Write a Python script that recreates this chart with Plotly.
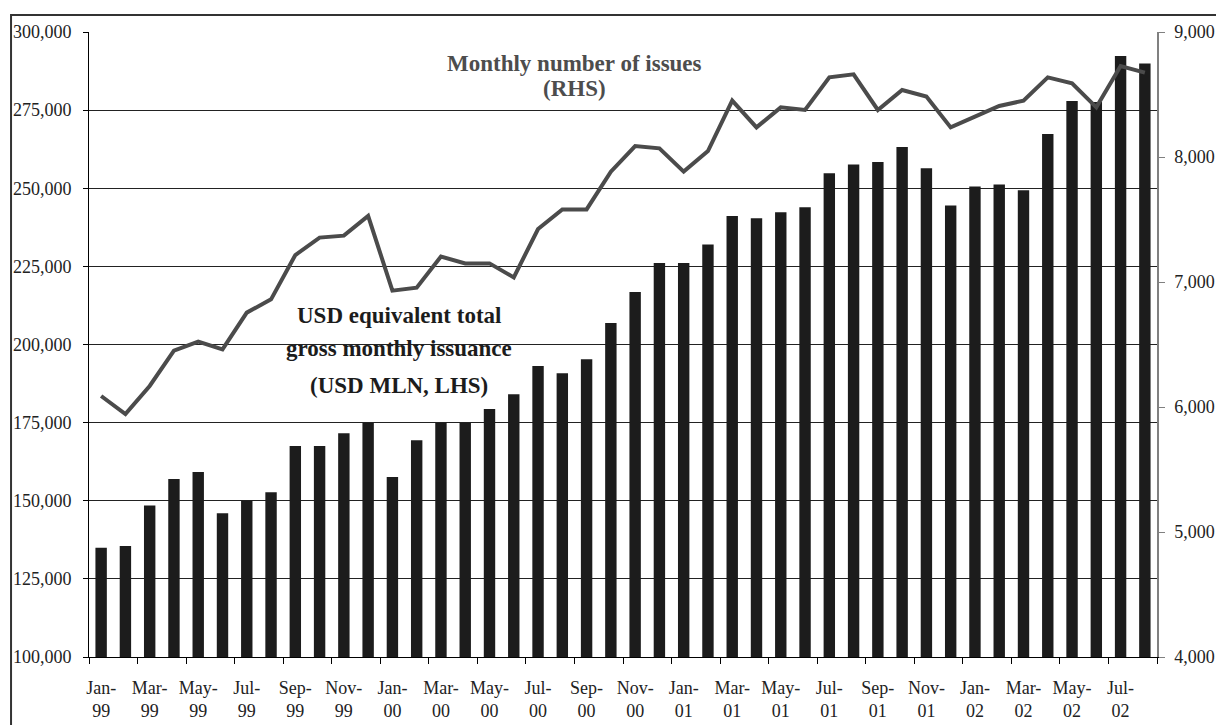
import plotly.graph_objects as go

# ---- data ----
categories = [
    "Jan-99", "Feb-99", "Mar-99", "Apr-99", "May-99", "Jun-99", "Jul-99", "Aug-99", "Sep-99", "Oct-99", "Nov-99", "Dec-99",
    "Jan-00", "Feb-00", "Mar-00", "Apr-00", "May-00", "Jun-00", "Jul-00", "Aug-00", "Sep-00", "Oct-00", "Nov-00", "Dec-00",
    "Jan-01", "Feb-01", "Mar-01", "Apr-01", "May-01", "Jun-01", "Jul-01", "Aug-01", "Sep-01", "Oct-01", "Nov-01", "Dec-01",
    "Jan-02", "Feb-02", "Mar-02", "Apr-02", "May-02", "Jun-02", "Jul-02", "Aug-02",
]
issuance_usd_mln = [
    135000, 135500, 148500, 157000, 159200, 146000, 150000, 152700, 167500, 167500, 171600, 175000,
    157600, 169400, 175000, 175000, 179400, 184100, 193100, 190800, 195300, 206900, 216800, 226100,
    226100, 232000, 241100, 240400, 242300, 243900, 254800, 257600, 258400, 263200, 256400, 244500,
    250600, 251200, 249400, 267400, 277900, 277600, 292300, 289900,
]
number_of_issues = [
    6088, 5944, 6168, 6451, 6523, 6461, 6755, 6861, 7216, 7355, 7371, 7528,
    6931, 6955, 7203, 7149, 7149, 7037, 7424, 7581, 7581, 7883, 8088, 8069,
    7883, 8048, 8451, 8237, 8397, 8376, 8637, 8661, 8376, 8536, 8483, 8237,
    8323, 8408, 8451, 8637, 8589, 8397, 8728, 8675,
]
left_ticks = [100000, 125000, 150000, 175000, 200000, 225000, 250000, 275000, 300000]
right_ticks = [4000, 5000, 6000, 7000, 8000, 9000]

# ---- derived positions ----
idx = list(range(len(categories)))
label_idx = idx[::2]
month_text = [categories[i].split("-")[0] + "-" for i in label_idx]
year_text = [categories[i].split("-")[1] for i in label_idx]
boundary_ticks = [i - 0.5 for i in range(0, len(categories) + 1, 2)]
xr = [-0.5, len(categories) - 0.5]

FONT = "Liberation Serif"

fig = go.Figure()
fig.add_trace(go.Bar(
    x=idx, y=issuance_usd_mln, marker=dict(color="#1c1c1c", line=dict(width=0)),
    xaxis="x", yaxis="y", showlegend=False, hoverinfo="skip",
))
fig.add_trace(go.Scatter(
    x=idx, y=number_of_issues, mode="lines", line=dict(color="#4b4b4b", width=4),
    xaxis="x", yaxis="y2", showlegend=False, hoverinfo="skip",
))
# invisible anchors so the helper x axes (year labels, boundary ticks) are drawn
for ax in ("x3", "x4"):
    fig.add_trace(go.Scatter(
        x=[idx[0], idx[-1]], y=[left_ticks[0], left_ticks[0]], mode="markers",
        marker=dict(opacity=0, size=1), xaxis=ax, yaxis="y",
        showlegend=False, hoverinfo="skip",
    ))

tickfont = dict(family=FONT, size=18, color="#222222")

fig.update_layout(
    width=1216, height=725,
    margin=dict(l=89, r=59, t=32, b=68, autoexpand=False),
    paper_bgcolor="white", plot_bgcolor="white",
    bargap=0.53,
    font=dict(family=FONT),
    xaxis=dict(
        range=xr, tickmode="array", tickvals=label_idx, ticktext=month_text,
        ticks="", showline=True, linecolor="black", linewidth=1,
        showgrid=False, zeroline=False, tickfont=tickfont, ticklabelstandoff=14,
        automargin=False,
    ),
    xaxis3=dict(
        overlaying="x", anchor="y", side="bottom", range=xr,
        tickmode="array", tickvals=label_idx, ticktext=year_text,
        ticks="", showline=False, showgrid=False, zeroline=False,
        tickfont=tickfont, ticklabelstandoff=41, automargin=False,
    ),
    xaxis4=dict(
        overlaying="x", anchor="y", side="bottom", range=xr,
        tickmode="array", tickvals=boundary_ticks, ticks="outside", ticklen=6,
        tickcolor="black", tickwidth=1, showticklabels=False,
        showline=False, showgrid=False, zeroline=False, automargin=False,
    ),
    yaxis=dict(
        range=[left_ticks[0], left_ticks[-1]], tickmode="array", tickvals=left_ticks,
        tickformat=",d", showgrid=True, gridcolor="#222222", gridwidth=1,
        showline=True, linecolor="black", linewidth=1,
        ticks="outside", ticklen=5, tickcolor="black",
        zeroline=False, tickfont=tickfont, ticklabelstandoff=8, automargin=False,
    ),
    yaxis2=dict(
        overlaying="y", side="right", anchor="x",
        range=[right_ticks[0], right_ticks[-1]], tickmode="array", tickvals=right_ticks,
        tickformat=",d", showgrid=False, zeroline=False,
        showline=True, linecolor="#808080", linewidth=1.5,
        ticks="outside", ticklen=6, tickcolor="#808080",
        tickfont=tickfont, ticklabelstandoff=6, automargin=False,
    ),
)

title_font = dict(family=FONT, size=23, color="#4d4d4d")
usd_font = dict(family=FONT, size=23, color="#1c1c1c")
annos = [
    ("<b>Monthly number of issues</b>", 0.455, 0.950, title_font),
    ("<b>(RHS)</b>", 0.455, 0.909, title_font),
    ("<b>USD equivalent total</b>", 0.290, 0.547, usd_font),
    ("<b>gross monthly issuance</b>", 0.290, 0.493, usd_font),
    ("<b>(USD MLN, LHS)</b>", 0.290, 0.434, usd_font),
]
for text, x, y, f in annos:
    fig.add_annotation(text=text, x=x, y=y, xref="paper", yref="paper",
                       showarrow=False, xanchor="center", yanchor="middle", font=f)

# outer chart frame
fig.add_shape(type="rect", xref="paper", yref="paper",
              x0=-0.0730, x1=1.2, y0=-0.3, y1=1.0272,
              line=dict(color="#333333", width=2), fillcolor="rgba(0,0,0,0)", layer="above")

fig.write_html(
    "out.html",
    config={"displayModeBar": False},
    post_script="document.body.style.margin='0';document.body.style.overflow='hidden';",
)
